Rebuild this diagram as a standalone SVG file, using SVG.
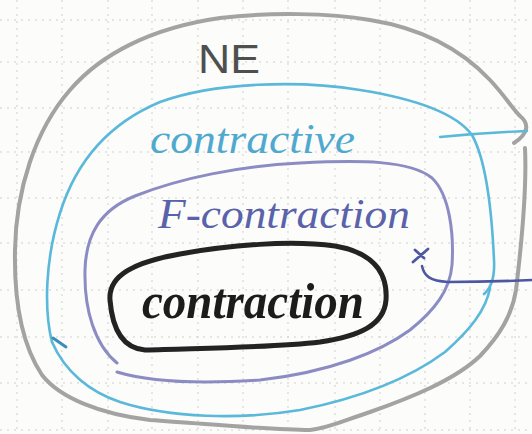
<svg xmlns="http://www.w3.org/2000/svg" width="532" height="434" viewBox="0 0 532 434">
  <style>
    .grid line { stroke: #cfcfca; stroke-width: 1; stroke-dasharray: 2 5; }
    .ring { fill: none; stroke-linecap: round; stroke-linejoin: round; }
    .hand { font-family: "Liberation Serif", "DejaVu Serif", serif; font-style: italic; }
    .plain { font-family: "Liberation Sans", "DejaVu Sans", sans-serif; font-style: normal; }
  </style>
  <rect width="532" height="434" fill="#fcfcfa"/>

  <!-- dotted notebook grid -->
  <g class="grid">
    <line x1="17" y1="0" x2="17" y2="434"/><line x1="62" y1="0" x2="62" y2="434"/>
    <line x1="108" y1="0" x2="108" y2="434"/><line x1="152" y1="0" x2="152" y2="434"/>
    <line x1="198" y1="0" x2="198" y2="434"/><line x1="243" y1="0" x2="243" y2="434"/>
    <line x1="288" y1="0" x2="288" y2="434"/><line x1="335" y1="0" x2="335" y2="434"/>
    <line x1="380" y1="0" x2="380" y2="434"/><line x1="425" y1="0" x2="425" y2="434"/>
    <line x1="470" y1="0" x2="470" y2="434"/><line x1="515" y1="0" x2="515" y2="434"/>
    <line x1="0" y1="20" x2="532" y2="20"/><line x1="0" y1="62" x2="532" y2="62"/>
    <line x1="0" y1="108" x2="532" y2="108"/><line x1="0" y1="152" x2="532" y2="152"/>
    <line x1="0" y1="198" x2="532" y2="198"/><line x1="0" y1="243" x2="532" y2="243"/>
    <line x1="0" y1="290" x2="532" y2="290"/><line x1="0" y1="337" x2="532" y2="337"/>
    <line x1="0" y1="383" x2="532" y2="383"/><line x1="0" y1="430" x2="532" y2="430"/>
  </g>

  <!-- NE: outer grey set -->
  <g id="node-ne">
    <path class="ring" stroke="#a3a3a3" stroke-width="4"
      d="M 525,148 C 527,190 522,240 516,290 C 512,315 500,335 480,356 C 455,380 410,398 370,412 C 345,420 330,428 310,430 C 270,430 210,424 150,420 C 100,414 60,398 42,375 C 22,345 14,300 15,250 C 16,190 35,130 70,90 C 100,55 150,28 220,18 C 270,12 330,13 370,20 C 420,28 460,48 490,80 C 505,96 512,108 520,116 C 530,124 528,134 514,143"/>
    <text class="plain" x="198" y="73" font-size="40" fill="#4f4f4f" textLength="62" lengthAdjust="spacingAndGlyphs">NE</text>
  </g>

  <!-- contractive: light blue set -->
  <g id="node-contractive">
    <path class="ring" stroke="#5ab8da" stroke-width="2.6"
      d="M 52,342 C 44,310 45,260 60,213 C 75,165 105,125 160,102 C 215,82 300,80 360,90 C 410,98 455,112 472,135 C 486,160 492,215 494,260 C 495,278 491,288 484,294"/>
    <path class="ring" stroke="#5ab8da" stroke-width="2.6"
      d="M 490,288 C 486,310 470,330 445,352 C 410,378 360,398 300,410 C 240,420 170,418 120,402 C 90,392 65,372 52,342"/>
    <path class="ring" stroke="#3a8fb8" stroke-width="3" d="M 53,338 L 66,347"/>
    <text class="hand" x="150" y="153" font-size="42" fill="#4fa9cf" textLength="205" lengthAdjust="spacingAndGlyphs">contractive</text>
  </g>

  <!-- F-contraction: purple set -->
  <g id="node-fcontraction">
    <path class="ring" stroke="#8c8cc4" stroke-width="3"
      d="M 117,363 C 95,345 84,310 85,270 C 86,235 100,210 135,196 C 180,178 240,166 300,163 C 360,160 410,160 432,178 C 450,195 454,235 452,265 C 450,290 435,310 410,330 C 380,352 330,372 260,380 C 200,384 150,382 117,372"/>
    <text class="hand" x="158" y="228" font-size="42" fill="#5a62aa" textLength="252" lengthAdjust="spacingAndGlyphs">F-contraction</text>
  </g>

  <!-- contraction: black set -->
  <g id="node-contraction">
    <path class="ring" stroke="#232323" stroke-width="5"
      d="M 110,300 C 108,275 135,262 180,254 C 230,245 290,240 335,246 C 370,252 388,270 386,300 C 384,325 360,336 320,342 C 270,348 200,348 145,350 C 120,348 112,325 110,300 Z"/>
    <text class="hand" x="142" y="318" font-size="50" font-weight="bold" fill="#1c1c1c" textLength="222" lengthAdjust="spacingAndGlyphs">contraction</text>
  </g>

  <!-- connectors and marks -->
  <g id="connectors">
    <path class="ring" stroke="#5ab8da" stroke-width="2.4" d="M 440,137 C 470,134 500,132 527,131"/>
    <path class="ring" stroke="#4d58a2" stroke-width="2.8" d="M 413,262 L 428,249 M 415,250 L 424,258"/>
    <path class="ring" stroke="#4d58a2" stroke-width="2.6" d="M 422,266 C 424,276 430,281 448,282 C 480,282 510,281 532,280"/>
  </g>
</svg>
